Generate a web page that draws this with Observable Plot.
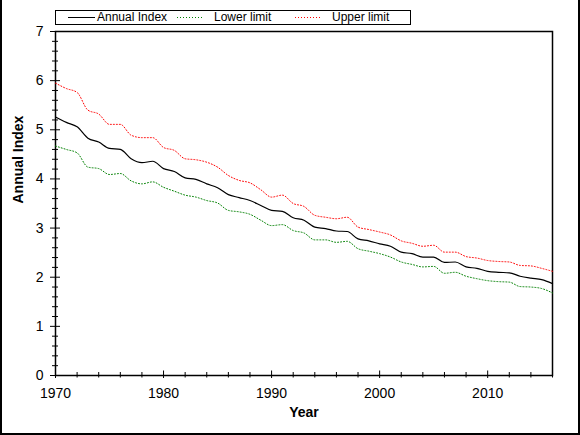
<!DOCTYPE html>
<html>
<head>
<meta charset="utf-8">
<script src="https://cdn.jsdelivr.net/npm/d3@7"></script>
<script src="https://cdn.jsdelivr.net/npm/@observablehq/plot@0.6"></script>
<style>
  html, body { margin: 0; padding: 0; background: #fff; }
  #wrap { position: relative; width: 580px; height: 435px; overflow: hidden; font-family: Arial, "Liberation Sans", sans-serif; }
  #wrap svg.plot { position: absolute; left: 0; top: 0; }
  #border { position: absolute; left: 0; top: -4px; width: 580px; height: 439px; box-sizing: border-box;
            border: 2px solid #000; pointer-events: none; }
  #legend { position: absolute; left: 55px; top: 10px; width: 356px; height: 15px; box-sizing: border-box;
            border: 1px solid #000; background: #fff; font-size: 12px; color: #000; }
  #legend .item { position: absolute; top: 0; height: 13px; line-height: 13px; white-space: nowrap; }
  #legend svg { position: absolute; top: 0; }
</style>
</head>
<body>
<div id="wrap">
  <div id="legend"></div>
  <div id="border"></div>
</div>
<script>
// ---- data ----
const years = d3.range(1970, 2017);
const annualIndex = [5.26, 5.15, 5.06, 4.83, 4.75, 4.62, 4.60, 4.41, 4.33, 4.36,
  4.21, 4.15, 4.02, 3.99, 3.90, 3.82, 3.68, 3.62, 3.56, 3.46,
  3.36, 3.34, 3.21, 3.16, 3.02, 2.99, 2.94, 2.93, 2.78, 2.74,
  2.68, 2.63, 2.51, 2.48, 2.41, 2.41, 2.30, 2.31, 2.21, 2.18,
  2.12, 2.10, 2.09, 2.02, 1.98, 1.95, 1.87];
const lowerLimit = [4.67, 4.60, 4.53, 4.24, 4.21, 4.09, 4.11, 3.96, 3.90, 3.94,
  3.83, 3.75, 3.67, 3.63, 3.56, 3.51, 3.36, 3.33, 3.28, 3.16,
  3.05, 3.07, 2.95, 2.90, 2.76, 2.76, 2.71, 2.73, 2.58, 2.53,
  2.48, 2.41, 2.31, 2.26, 2.21, 2.22, 2.08, 2.10, 2.02, 1.97,
  1.93, 1.91, 1.90, 1.81, 1.80, 1.77, 1.68];
const upperLimit = [5.95, 5.84, 5.76, 5.40, 5.32, 5.11, 5.11, 4.89, 4.84, 4.84,
  4.64, 4.58, 4.41, 4.39, 4.34, 4.24, 4.07, 3.97, 3.92, 3.78,
  3.63, 3.67, 3.50, 3.44, 3.26, 3.22, 3.19, 3.22, 3.02, 2.97,
  2.92, 2.86, 2.74, 2.69, 2.63, 2.65, 2.51, 2.51, 2.42, 2.39,
  2.34, 2.32, 2.31, 2.24, 2.23, 2.18, 2.12];
const seriesNames = ["Annual Index", "Lower limit", "Upper limit"];
const seriesColors = ["#000000", "#008000", "#ff0000"];
const xTickLabels = [1970, 1980, 1990, 2000, 2010];
const xMinorTicks = [1972, 1974, 1976, 1978, 1982, 1984, 1986, 1988, 1992, 1994, 1996, 1998,
  2002, 2004, 2006, 2008, 2012, 2014, 2016];
const yTickLabels = [0, 1, 2, 3, 4, 5, 6, 7];
const xDomain = [1970, 2016];
const yDomain = [0, 7];
const xTitle = "Year";
const yTitle = "Annual Index";

// ---- build table ----
const seriesValues = [annualIndex, lowerLimit, upperLimit];
const rows = [];
seriesNames.forEach((name, s) => years.forEach((yr, i) => rows.push({series: name, year: yr, value: seriesValues[s][i]})));
const yMinorTicks = d3.range(0, 7.001, 0.2).map(v => +v.toFixed(1)).filter(v => !Number.isInteger(v));

const font = "Arial, 'Liberation Sans', sans-serif";
const dash = {"Annual Index": null, "Lower limit": "1,2", "Upper limit": "1,2"};

const marks = [
  Plot.frame({stroke: "#000", strokeWidth: 1.5}),
  // minor / major ticks crossing axes
  Plot.ruleX(xMinorTicks, {x: d => d, y1: yDomain[0], y2: yDomain[0], insetTop: -3, insetBottom: -2.5, stroke: "#000"}),
  Plot.ruleX(xTickLabels, {x: d => d, y1: yDomain[0], y2: yDomain[0], insetTop: -4.5, insetBottom: -3, stroke: "#000"}),
  Plot.ruleY(yMinorTicks, {y: d => d, x1: xDomain[0], x2: xDomain[0], insetLeft: -3, insetRight: -3, stroke: "#000"}),
  Plot.ruleY(yTickLabels, {y: d => d, x1: xDomain[0], x2: xDomain[0], insetLeft: -5, insetRight: -5, stroke: "#000"}),
  Plot.axisX({ticks: xTickLabels, tickFormat: d => String(d), tickSize: 0, tickPadding: 13, fontSize: 14, label: null}),
  Plot.axisY({ticks: yTickLabels, tickFormat: d => String(d), tickSize: 0, tickPadding: 12, fontSize: 14, label: null}),
  Plot.text([xTitle], {frameAnchor: "bottom", dy: 41, fontWeight: "bold", fontSize: 14}),
  Plot.text([yTitle], {frameAnchor: "left", dx: -37, rotate: -90, fontWeight: "bold", fontSize: 14}),
];
seriesNames.forEach((name, s) => {
  marks.push(Plot.line(rows.filter(r => r.series === name), {
    x: "year", y: "value",
    stroke: seriesColors[s],
    strokeWidth: s === 0 ? 1.2 : 1,
    strokeDasharray: dash[name],
    curve: "monotone-x"
  }));
});

const chart = Plot.plot({
  width: 580,
  height: 435,
  marginLeft: 55,
  marginRight: 28,
  marginTop: 31,
  marginBottom: 60,
  style: {fontFamily: font, fontSize: "14px", color: "#000", background: "transparent", overflow: "visible"},
  x: {domain: xDomain},
  y: {domain: yDomain},
  marks
});
chart.classList.add("plot");
document.getElementById("wrap").insertBefore(chart, document.getElementById("legend"));

// ---- legend ----
const legend = document.getElementById("legend");
const sampleX = [12, 121, 239];   // relative offsets inside legend box
const textX = [41, 158, 276];
seriesNames.forEach((name, s) => {
  const svg = d3.create("svg").attr("width", 28).attr("height", 13)
    .style("left", sampleX[s] + "px");
  svg.append("line").attr("x1", 0).attr("x2", 27).attr("y1", 6.5).attr("y2", 6.5)
    .attr("stroke", seriesColors[s]).attr("stroke-width", 1)
    .attr("stroke-dasharray", dash[name]);
  legend.appendChild(svg.node());
  const t = document.createElement("div");
  t.className = "item";
  t.style.left = textX[s] + "px";
  t.textContent = name;
  legend.appendChild(t);
});
</script>
</body>
</html>
